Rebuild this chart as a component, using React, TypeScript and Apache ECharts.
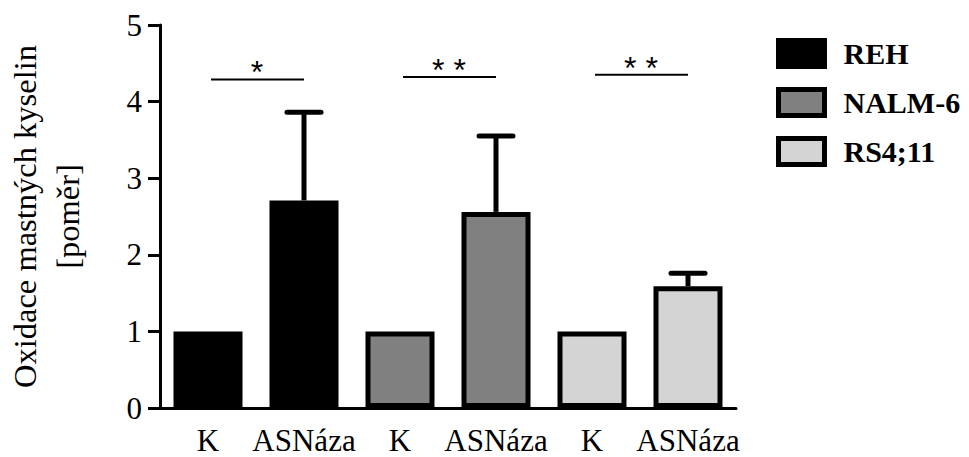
import React, { useEffect, useRef } from "react";
import * as echarts from "echarts";

const categories = ["K", "ASNáza", "K", "ASNáza", "K", "ASNáza"];
const seriesNames = ["REH", "NALM-6", "RS4;11"];
const seriesColors = ["#000000", "#808080", "#d4d4d4"];
const controlValues = [1, 1, 1];
const asnValues = [2.71, 2.56, 1.59];
const asnErrorTop = [3.86, 3.55, 1.76];
const sigLabels = ["*", "* *", "* *"];
const sigHeights = [4.29, 4.32, 4.35];
const yTicks = [0, 1, 2, 3, 4, 5];

const SERIF = "'Liberation Serif', 'Times New Roman', serif";

export default function App() {
  const ref = useRef<HTMLDivElement>(null);

  useEffect(() => {
    document.body.style.margin = "0";
    if (!ref.current) return;
    const chart = echarts.init(ref.current, null, { renderer: "svg" });

    const barSeries = seriesNames.map((name, g) => {
      const data: any[] = categories.map(() => "-");
      data[g * 2] = controlValues[g];
      data[g * 2 + 1] = asnValues[g];
      return {
        name,
        type: "bar",
        barWidth: 69,
        barGap: "-100%",
        data,
        itemStyle: {
          color: seriesColors[g],
          borderColor: "#000",
          borderWidth: 5,
        },
        z: 3,
      };
    });

    const errorData = asnValues.map((v, g) => [g * 2 + 1, v, asnErrorTop[g]]);
    const sigData = sigHeights.map((h, g) => [g * 2, g * 2 + 1, h]);

    chart.setOption({
      animation: false,
      grid: {
        left: 160,
        top: 25,
        width: 576,
        height: 383,
        containLabel: false,
        outerBoundsMode: "none",
      },
      legend: {
        data: seriesNames,
        orient: "vertical",
        left: 776,
        top: 38,
        padding: 0,
        icon: "rect",
        itemWidth: 46,
        itemHeight: 26,
        itemGap: 18,
        selectedMode: false,
        itemStyle: { borderWidth: 5, borderColor: "#000" },
        textStyle: {
          fontFamily: SERIF,
          fontWeight: "bold",
          fontSize: 30,
          color: "#000",
          lineHeight: 26,
          padding: [0, 0, 0, 14],
        },
      },
      xAxis: {
        type: "category",
        data: categories,
        axisLine: { lineStyle: { color: "#000", width: 3 } },
        axisTick: { alignWithLabel: true, length: 11, lineStyle: { color: "#000", width: 3 } },
        axisLabel: {
          fontFamily: SERIF,
          fontSize: 31,
          color: "#000",
          margin: 17,
          interval: 0,
        },
      },
      yAxis: {
        type: "value",
        min: yTicks[0],
        max: yTicks[yTicks.length - 1],
        interval: 1,
        name: "Oxidace mastných kyselin\n[poměr]",
        nameLocation: "middle",
        nameRotate: 90,
        nameGap: 71,
        nameTextStyle: {
          fontFamily: SERIF,
          fontSize: 32.5,
          color: "#000",
          lineHeight: 43,
        },
        axisLine: { show: true, lineStyle: { color: "#000", width: 3 } },
        axisTick: { show: true, length: 12, lineStyle: { color: "#000", width: 3 } },
        splitLine: { show: false },
        axisLabel: {
          fontFamily: SERIF,
          fontSize: 31,
          color: "#000",
          margin: 18,
        },
      },
      series: [
        ...barSeries,
        {
          type: "custom",
          name: "error",
          data: errorData,
          z: 2,
          renderItem: (params: any, api: any) => {
            const base = api.coord([api.value(0), api.value(1)]);
            const top = api.coord([api.value(0), api.value(2)]);
            return {
              type: "group",
              children: [
                {
                  type: "line",
                  shape: { x1: base[0], y1: base[1], x2: top[0], y2: top[1] },
                  style: { stroke: "#000", lineWidth: 5 },
                },
                {
                  type: "line",
                  shape: { x1: top[0] - 17, y1: top[1], x2: top[0] + 17, y2: top[1] },
                  style: { stroke: "#000", lineWidth: 5, lineCap: "round" },
                },
              ],
            };
          },
        },
        {
          type: "custom",
          name: "sig",
          data: sigData,
          z: 4,
          renderItem: (params: any, api: any) => {
            const p1 = api.coord([api.value(0), api.value(2)]);
            const p2 = api.coord([api.value(1), api.value(2)]);
            const label = sigLabels[params.dataIndex];
            return {
              type: "group",
              children: [
                {
                  type: "line",
                  shape: { x1: p1[0] + 3, y1: p1[1], x2: p2[0], y2: p2[1] },
                  style: { stroke: "#000", lineWidth: 2 },
                },
                {
                  type: "text",
                  x: (p1[0] + p2[0]) / 2 + 1,
                  y: p1[1] - 7,
                  style: {
                    text: label,
                    font: "32px 'Liberation Sans', Arial, sans-serif",
                    fill: "#000",
                    align: "center",
                    verticalAlign: "middle",
                    textAlign: "center",
                    textVerticalAlign: "middle",
                  },
                },
              ],
            };
          },
        },
      ],
    });

    return () => chart.dispose();
  }, []);

  return <div ref={ref} style={{ width: 969, height: 457 }} />;
}
